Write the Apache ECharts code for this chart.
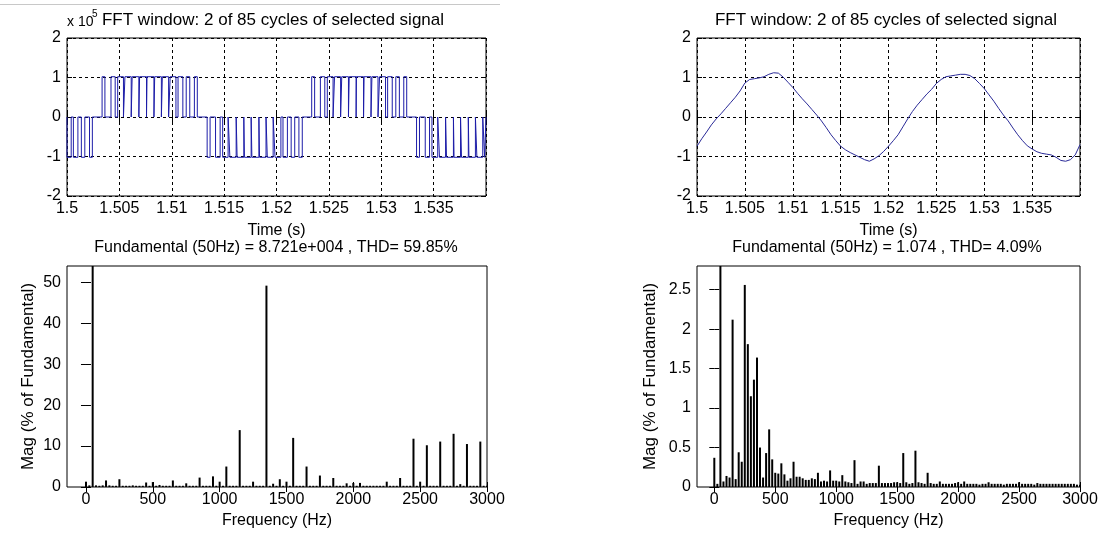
<!DOCTYPE html>
<html><head><meta charset="utf-8">
<script src="https://cdn.jsdelivr.net/npm/echarts@6/dist/echarts.min.js"></script>
<style>html,body{margin:0;padding:0;background:#fff}#c{width:1105px;height:536px}</style>
</head><body><div id="c"></div>
<script>
// ---------- DATA ----------
// Top-left: 3-level PWM voltage (x 10^5). Pulses as [switch-on, switch-off] times per half-cycle block.
const pwmAmplitude = 1.02e5;
const pwmNegA = [[1.50000,1.50040],[1.50061,1.50104],[1.50137,1.50170],[1.50215,1.50242]];
const pwmPosB = [[1.50335,1.50362],[1.50420,1.50460],[1.50484,1.50539],[1.50553,1.50613],[1.50622,1.50686],[1.50693,1.50759],[1.50764,1.50830],[1.50837,1.50901],[1.50910,1.50970],[1.50985,1.51040],[1.51060,1.51106],[1.51138,1.51172],[1.51216,1.51244]];
const pwmNegC = [[1.51338,1.51366],[1.51418,1.51462],[1.51486,1.51538],[1.51555,1.51615],[1.51624,1.51688],[1.51694,1.51758],[1.51765,1.51832],[1.51838,1.51900],[1.51912,1.51968],[1.51986,1.52042],[1.52062,1.52104],[1.52140,1.52174],[1.52214,1.52246]];
const pwmPosD = [[1.52336,1.52364],[1.52419,1.52461],[1.52485,1.52540],[1.52554,1.52612],[1.52623,1.52687],[1.52694,1.52760],[1.52763,1.52831],[1.52836,1.52902],[1.52911,1.52969],[1.52984,1.53041],[1.53061,1.53105],[1.53139,1.53173],[1.53215,1.53243]];
const pwmNegE = [[1.53337,1.53365],[1.53420,1.53461],[1.53484,1.53539],[1.53556,1.53614],[1.53623,1.53689],[1.53695,1.53757],[1.53766,1.53831],[1.53837,1.53899],[1.53913,1.53969],[1.53987,1.54000]];

// Top-right: filtered output, sampled every 0.5 ms from 1.500 s
const sineTimes = [1.5000,1.5005,1.5010,1.5015,1.5020,1.5025,1.5030,1.5035,1.5040,1.5045,1.5050,1.5055,1.5060,1.5065,1.5070,1.5075,1.5080,1.5085,1.5090,1.5095,1.5100,1.5105,1.5110,1.5115,1.5120,1.5125,1.5130,1.5135,1.5140,1.5145,1.5150,1.5155,1.5160,1.5165,1.5170,1.5175,1.5180,1.5185,1.5190,1.5195,1.5200,1.5205,1.5210,1.5215,1.5220,1.5225,1.5230,1.5235,1.5240,1.5245,1.5250,1.5255,1.5260,1.5265,1.5270,1.5275,1.5280,1.5285,1.5290,1.5295,1.5300,1.5305,1.5310,1.5315,1.5320,1.5325,1.5330,1.5335,1.5340,1.5345,1.5350,1.5355,1.5360,1.5365,1.5370,1.5375,1.5380,1.5385,1.5390,1.5395,1.5400];
const sineValues = [-0.74,-0.55,-0.38,-0.20,-0.05,0.08,0.22,0.36,0.50,0.66,0.86,0.95,0.97,0.99,1.02,1.08,1.12,1.11,1.01,0.88,0.75,0.60,0.46,0.33,0.19,0.05,-0.10,-0.27,-0.45,-0.60,-0.74,-0.83,-0.90,-0.96,-1.02,-1.08,-1.12,-1.06,-0.98,-0.87,-0.74,-0.60,-0.45,-0.25,-0.05,0.14,0.30,0.44,0.58,0.70,0.85,0.95,1.02,1.04,1.06,1.08,1.08,1.05,0.97,0.85,0.72,0.56,0.40,0.22,0.05,-0.10,-0.28,-0.45,-0.60,-0.73,-0.81,-0.88,-0.92,-0.94,-0.96,-1.02,-1.10,-1.12,-1.08,-0.96,-0.70];

// Spectra: bins every 25 Hz from 0 to 3000 Hz (% of fundamental)
const freqBins = [0,25,50,75,100,125,150,175,200,225,250,275,300,325,350,375,400,425,450,475,500,525,550,575,600,625,650,675,700,725,750,775,800,825,850,875,900,925,950,975,1000,1025,1050,1075,1100,1125,1150,1175,1200,1225,1250,1275,1300,1325,1350,1375,1400,1425,1450,1475,1500,1525,1550,1575,1600,1625,1650,1675,1700,1725,1750,1775,1800,1825,1850,1875,1900,1925,1950,1975,2000,2025,2050,2075,2100,2125,2150,2175,2200,2225,2250,2275,2300,2325,2350,2375,2400,2425,2450,2475,2500,2525,2550,2575,2600,2625,2650,2675,2700,2725,2750,2775,2800,2825,2850,2875,2900,2925,2950,2975,3000];
const magLeft = [1.3,0.4,100,0.4,0.3,0.4,1.6,0.4,0.3,0.3,1.9,0.3,0.3,0.3,0.4,0.3,0.3,0.3,1.1,0.3,1.2,0.3,0.5,0.3,0.3,0.3,1.6,0.3,0.3,0.3,0.9,0.3,0.3,0.3,2.3,0.3,0.3,0.3,2.6,0.3,1.3,0.3,5.0,0.3,0.3,0.3,13.9,0.3,0.3,0.3,1.3,0.3,0.3,0.3,49.2,0.3,0.8,0.3,1.9,0.3,1.3,0.3,12.0,0.3,0.3,0.3,5.0,0.3,0.3,0.3,2.8,0.3,0.3,0.3,2.2,0.3,0.3,0.3,0.9,0.3,1.0,0.3,1.0,0.3,0.3,0.3,0.3,0.3,0.3,0.3,1.3,0.3,0.3,0.3,2.2,0.3,0.3,0.3,11.8,0.3,1.3,0.3,10.2,0.3,0.3,0.3,11.1,0.3,0.3,0.3,13.0,0.3,0.7,0.3,10.5,0.3,0.3,0.3,11.1,0.3,0.3];
const magRight = [0.37,0.04,100,0.07,0.14,0.12,2.12,0.10,0.44,0.32,2.56,1.81,1.15,1.36,1.64,0.50,0.12,0.43,0.73,0.35,0.18,0.17,0.30,0.16,0.08,0.11,0.32,0.13,0.13,0.11,0.09,0.09,0.11,0.10,0.18,0.07,0.08,0.07,0.21,0.08,0.08,0.07,0.15,0.07,0.06,0.05,0.34,0.04,0.07,0.07,0.04,0.05,0.05,0.05,0.27,0.05,0.05,0.05,0.05,0.06,0.06,0.05,0.43,0.06,0.04,0.05,0.46,0.06,0.05,0.04,0.18,0.05,0.04,0.04,0.07,0.04,0.04,0.04,0.04,0.05,0.06,0.04,0.07,0.04,0.04,0.04,0.04,0.03,0.04,0.04,0.06,0.04,0.04,0.04,0.04,0.03,0.04,0.04,0.04,0.04,0.06,0.04,0.04,0.04,0.04,0.03,0.05,0.04,0.04,0.04,0.04,0.04,0.04,0.04,0.04,0.04,0.04,0.04,0.04,0.03,0.03];

// Tick labels
const timeTicks = [1.5,1.505,1.51,1.515,1.52,1.525,1.53,1.535];
const freqTicks = [0,500,1000,1500,2000,2500,3000];
const magLeftTicks = [0,10,20,30,40,50];
const magRightTicks = [0,0.5,1,1.5,2,2.5];

// Texts
const titleTop = 'FFT window: 2 of 85 cycles of selected signal';
const titleBottomLeft = 'Fundamental (50Hz) = 8.721e+004 , THD= 59.85%';
const titleBottomRight = 'Fundamental (50Hz) = 1.074 , THD= 4.09%';

// ---------- BUILD ----------
const FONT = '"Liberation Sans", Arial, Helvetica, sans-serif';
function pwmPath(blocks) {
  const pts = [[1.5, 0]];
  blocks.forEach(b => {
    b.pulses.forEach(p => {
      const v = b.sign * pwmAmplitude;
      pts.push([p[0], 0], [p[0], v], [p[1], v], [p[1], 0]);
    });
  });
  pts.push([1.54, 0]);
  return pts;
}
const pwmData = pwmPath([
  {sign: -1, pulses: pwmNegA}, {sign: 1, pulses: pwmPosB}, {sign: -1, pulses: pwmNegC},
  {sign: 1, pulses: pwmPosD}, {sign: -1, pulses: pwmNegE}
]);
const sineData = sineTimes.map((t, i) => [t, sineValues[i]]);
const barsLeft = freqBins.map((f, i) => [f, magLeft[i]]);
const barsRight = freqBins.map((f, i) => [f, magRight[i]]);

const G = [
  {left: 67, top: 38, width: 419, height: 158},
  {left: 697, top: 38, width: 383, height: 158},
  {left: 67, top: 266, width: 420, height: 221},
  {left: 697, top: 266, width: 383, height: 221}
];
const plain = v => String(v);
const labelStyle = {color: '#000', fontSize: 16, fontFamily: FONT};
const tickIn = {show: true, inside: true, length: 5, lineStyle: {color: '#000', width: 1}};
const dashed = {show: true, lineStyle: {color: '#000', width: 1, type: [3, 3]}};
const nameStyle = {color: '#000', fontSize: 16, fontFamily: FONT};

function timeAxes(gi) {
  return [
    {type: 'value', gridIndex: gi, min: 1.5, max: 1.54, interval: 0.005, axisLine: {show: false},
     axisTick: Object.assign({}, tickIn), splitLine: dashed,
     axisLabel: Object.assign({margin: 5, customValues: timeTicks, formatter: plain}, labelStyle),
     name: 'Time (s)', nameLocation: 'middle', nameGap: 27, nameTextStyle: nameStyle},
    {type: 'value', gridIndex: gi, position: 'top', min: 1.5, max: 1.54, interval: 0.005,
     axisLine: {show: false}, axisTick: tickIn, axisLabel: {show: false}, splitLine: {show: false}}
  ];
}
function freqAxes(gi) {
  return [
    {type: 'value', gridIndex: gi, min: -142, max: 3000, axisLine: {show: false},
     axisTick: Object.assign({customValues: freqTicks}, tickIn), splitLine: {show: false},
     axisLabel: Object.assign({margin: 5, customValues: freqTicks, formatter: plain}, labelStyle),
     name: 'Frequency (Hz)', nameLocation: 'middle', nameGap: 26, nameTextStyle: nameStyle},
    {type: 'value', gridIndex: gi, position: 'top', min: -142, max: 3000, axisLine: {show: false},
     axisTick: Object.assign({customValues: freqTicks}, tickIn), axisLabel: {show: false}, splitLine: {show: false}}
  ];
}
function magAxes(gi, max, ticks, nameGap) {
  return [
    {type: 'value', gridIndex: gi, min: 0, max: max, axisLine: {show: false},
     axisTick: Object.assign({customValues: ticks}, tickIn), splitLine: {show: false},
     axisLabel: Object.assign({margin: 6, customValues: ticks, formatter: plain}, labelStyle),
     name: 'Mag (% of Fundamental)', nameLocation: 'middle', nameGap: nameGap,
     nameTextStyle: Object.assign({}, nameStyle, {fontSize: 17})},
    {type: 'value', gridIndex: gi, position: 'right', min: 0, max: max, axisLine: {show: false},
     axisTick: Object.assign({customValues: ticks}, tickIn), axisLabel: {show: false}, splitLine: {show: false}}
  ];
}

const option = {
  animation: false,
  backgroundColor: '#fff',
  grid: G.map(g => Object.assign({show: true, borderColor: '#000', borderWidth: 1, backgroundColor: '#fff'}, g)),
  xAxis: [].concat(timeAxes(0), timeAxes(1), freqAxes(2), freqAxes(3)),
  yAxis: [
    {type: 'value', gridIndex: 0, min: -2e5, max: 2e5, interval: 1e5, axisLine: {show: false},
     axisTick: tickIn, splitLine: dashed,
     axisLabel: Object.assign({margin: 6, formatter: v => String(Math.round(v / 1e5))}, labelStyle)},
    {type: 'value', gridIndex: 0, position: 'right', min: -2e5, max: 2e5, interval: 1e5,
     axisLine: {show: false}, axisTick: tickIn, axisLabel: {show: false}, splitLine: {show: false}},
    {type: 'value', gridIndex: 1, min: -2, max: 2, interval: 1, axisLine: {show: false},
     axisTick: tickIn, splitLine: dashed, axisLabel: Object.assign({margin: 6, formatter: plain}, labelStyle)},
    {type: 'value', gridIndex: 1, position: 'right', min: -2, max: 2, interval: 1,
     axisLine: {show: false}, axisTick: tickIn, axisLabel: {show: false}, splitLine: {show: false}}
  ].concat(magAxes(2, 54, magLeftTicks, 30), magAxes(3, 2.8, magRightTicks, 38)),
  series: [
    {type: 'line', xAxisIndex: 0, yAxisIndex: 0, data: pwmData, showSymbol: false, clip: true,
     lineStyle: {color: '#1c1ca8', width: 1}},
    {type: 'line', xAxisIndex: 2, yAxisIndex: 2, data: sineData, showSymbol: false, clip: true,
     lineStyle: {color: '#2a2a98', width: 1}},
    {type: 'bar', xAxisIndex: 4, yAxisIndex: 4, data: barsLeft, barWidth: 2, clip: true,
     itemStyle: {color: '#000'}},
    {type: 'bar', xAxisIndex: 6, yAxisIndex: 6, data: barsRight, barWidth: 2, clip: true,
     itemStyle: {color: '#000'}}
  ],
  graphic: [
    {type: 'line', shape: {x1: 0, y1: 4.5, x2: 500, y2: 4.5}, style: {stroke: '#c8c8c8', lineWidth: 1}},
    {type: 'text', x: 67, y: 22, style: {text: 'x 10', font: '14px ' + FONT, fill: '#000', align: 'left', verticalAlign: 'middle'}},
    {type: 'text', x: 92, y: 14, style: {text: '5', font: '10px ' + FONT, fill: '#000', align: 'left', verticalAlign: 'middle'}},
    {type: 'text', x: 273, y: 20, style: {text: titleTop, font: '17px ' + FONT, fill: '#000', align: 'center', verticalAlign: 'middle'}},
    {type: 'text', x: 886, y: 20, style: {text: titleTop, font: '17px ' + FONT, fill: '#000', align: 'center', verticalAlign: 'middle'}},
    {type: 'text', x: 276, y: 248, style: {text: titleBottomLeft, font: '16px ' + FONT, fill: '#000', align: 'center', verticalAlign: 'middle'}},
    {type: 'text', x: 887, y: 248, style: {text: titleBottomRight, font: '16px ' + FONT, fill: '#000', align: 'center', verticalAlign: 'middle'}}
  ]
};
const chart = echarts.init(document.getElementById('c'));
chart.setOption(option);
</script></body></html>
